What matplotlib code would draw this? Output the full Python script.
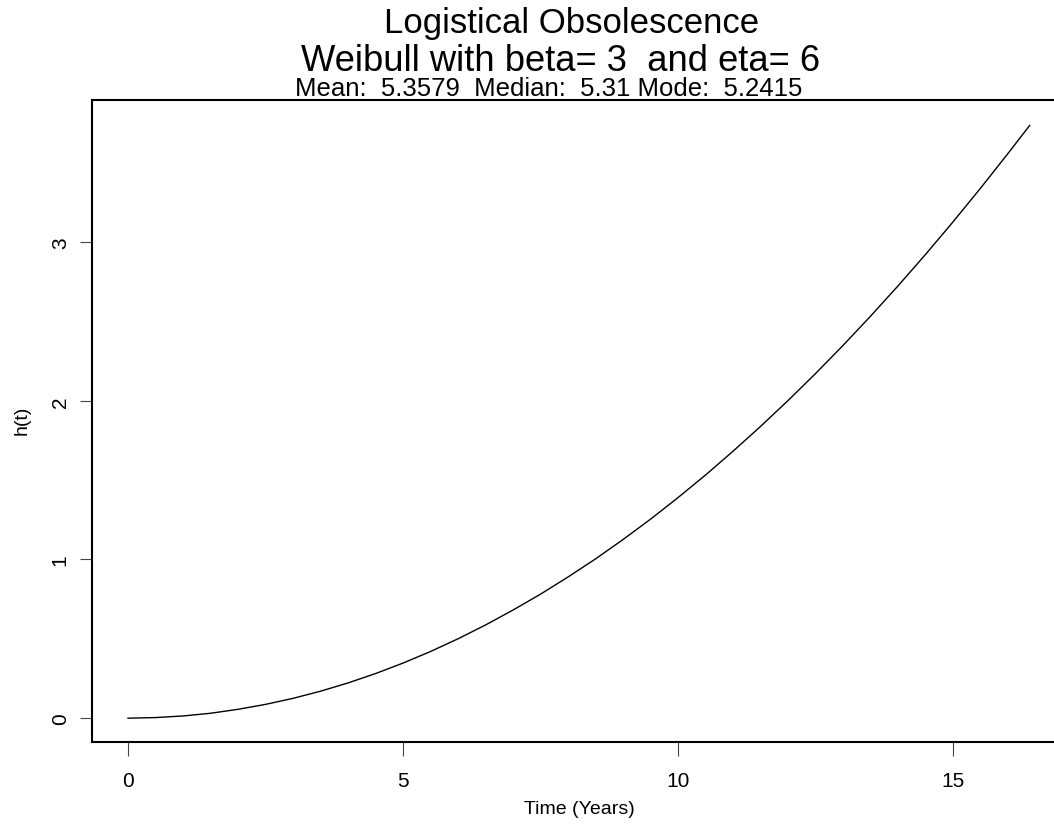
import matplotlib.pyplot as plt

# Hazard curve h(t) (years -> h)
t_years = [0.0, 0.5, 1.0, 1.5, 2.0, 2.5, 3.0, 3.5, 4.0, 4.5, 5.0, 5.5, 6.0,
           6.5, 7.0, 7.5, 8.0, 8.5, 9.0, 9.5, 10.0, 10.5, 11.0, 11.5, 12.0,
           12.5, 13.0, 13.5, 14.0, 14.5, 15.0, 15.5, 16.0, 16.4]
h_vals = [0.000, 0.004, 0.014, 0.031, 0.056, 0.087, 0.125, 0.170, 0.222,
          0.281, 0.347, 0.420, 0.500, 0.587, 0.681, 0.781, 0.889, 1.003,
          1.125, 1.253, 1.389, 1.531, 1.681, 1.837, 2.000, 2.170, 2.347,
          2.531, 2.722, 2.920, 3.125, 3.337, 3.556, 3.735]

x_ticks = [0, 5, 10, 15]
y_ticks = [0, 1, 2, 3]

title1 = "Logistical Obsolescence"
title2 = "Weibull with beta= 3  and eta= 6"
subtitle = "Mean:  5.3579  Median:  5.31 Mode:  5.2415"

plt.rcParams['font.family'] = ['Liberation Sans', 'DejaVu Sans']

W, H = 1054, 837
fig = plt.figure(figsize=(W / 100, H / 100), dpi=100)
ax = fig.add_axes([92 / W, (H - 743) / H, (1066 - 92) / W, (743 - 101) / H])

ax.plot(t_years, h_vals, color='black', lw=1.0)

ax.set_xlim(-0.656, 17.06)
ax.set_ylim(-0.15, 3.895)
ax.set_xticks(x_ticks)
ax.set_yticks(y_ticks)
ax.tick_params(axis='x', length=10, width=0.8, color='#444444', pad=11, labelsize=15)
ax.tick_params(axis='y', length=9, width=0.8, color='#444444', pad=7, labelsize=15)
for lab in ax.get_yticklabels():
    lab.set_rotation(90)
    lab.set_va('center')
for s in ax.spines.values():
    s.set_linewidth(1.5)
ax.spines['right'].set_visible(False)

# title block, positioned by baselines
fig.text(572 / W, 1 - 33 / H, title1, ha='center', va='baseline', fontsize=25)
fig.text(561 / W, 1 - 71 / H, title2, ha='center', va='baseline', fontsize=26.2)
fig.text(549 / W, 1 - 96 / H, subtitle, ha='center', va='baseline', fontsize=18.5)
fig.text(579 / W, 1 - 810 / H, "Time (Years)", ha='center', va='center', fontsize=14)
fig.text(22 / W, 1 - 420 / H, "h(t)", ha='center', va='center', fontsize=14, rotation=90)

fig.savefig("out.png", dpi=100)
